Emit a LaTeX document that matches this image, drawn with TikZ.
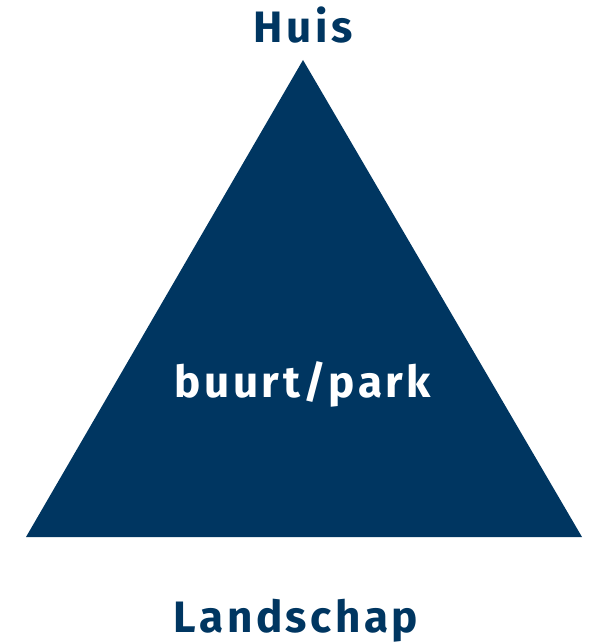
\documentclass[tikz,border=0pt]{standalone}
\usepackage{fontspec}
\setmainfont{Fira Sans}[UprightFont=* Bold, LetterSpace=8]
\definecolor{navy}{RGB}{0,54,97}
\begin{document}
\begin{tikzpicture}[x=1pt,y=-1pt,
  lbl/.style={text=navy,font=\fontsize{44}{48}\selectfont,inner sep=0pt,anchor=base},
  inlbl/.style={text=white,font=\fontsize{44}{48}\selectfont,inner sep=0pt,anchor=base}]
\useasboundingbox (0,0) rectangle (593,644);
\fill[navy] (303,60) coordinate (apex) -- (582,537) coordinate (br) -- (26,537) coordinate (bl) -- cycle;
\node[lbl] (huis) at (303,43) {Huis};
\node[inlbl] (buurt) at (303,397) {buurt/park};
\node[lbl] (land) at (296,632) {Landschap};
\end{tikzpicture}
\end{document}
